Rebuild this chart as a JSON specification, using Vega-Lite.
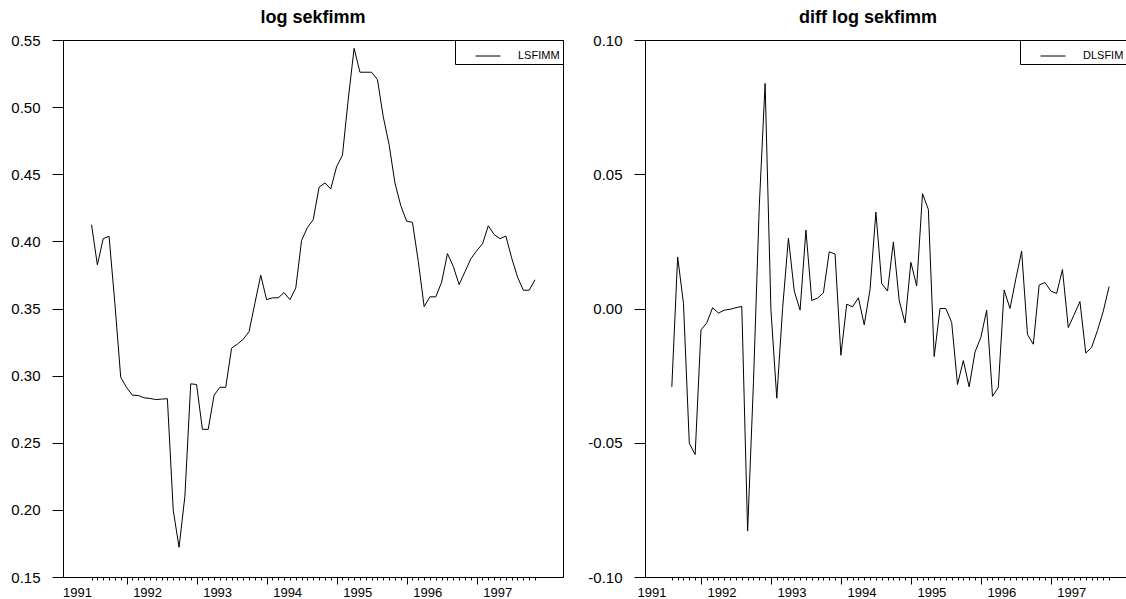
{
  "$schema": "https://vega.github.io/schema/vega-lite/v6.json",
  "autosize": "none",
  "padding": {"left": 63, "top": 40, "right": 1063, "bottom": 559},
  "background": "white",
  "bounds": "flush",
  "spacing": 82,
  "resolve": {"scale": {"x": "independent", "y": "independent", "color": "independent"}, "legend": {"color": "independent"}},
  "config": {
    "font": "Liberation Sans",
    "locale": {"number": {"decimal": ".", "thousands": ",", "grouping": [3], "currency": ["", ""], "minus": "-"}},
    "view": {"stroke": "black", "strokeWidth": 1},
    "axis": {"domainColor": "black", "tickColor": "black", "labelColor": "black", "labelFont": "Liberation Sans", "labelFontSize": 13, "grid": false, "title": null, "domainWidth": 1, "tickWidth": 1},
    "title": {"font": "Liberation Sans", "fontSize": 18, "fontWeight": "bold", "color": "black", "baseline": "alphabetic", "offset": 6},
    "legend": {"orient": "top-right", "offset": 0, "padding": 3, "strokeColor": "black", "fillColor": "white", "symbolType": "stroke", "symbolSize": 625, "symbolStrokeWidth": 1, "symbolStrokeColor": "black", "symbolOffset": 17, "labelOffset": 17, "labelFontSize": 11, "labelFont": "Liberation Sans", "labelColor": "black"}
  },
  "datasets": {
    "lev": [
      {"t":0,"v":0.4124,"s":"LSFIMM"},{"t":1,"v":0.3825,"s":"LSFIMM"},{"t":2,"v":0.402,"s":"LSFIMM"},{"t":3,"v":0.4038,"s":"LSFIMM"},{"t":4,"v":0.354,"s":"LSFIMM"},{"t":5,"v":0.2988,"s":"LSFIMM"},{"t":6,"v":0.2913,"s":"LSFIMM"},{"t":7,"v":0.2854,"s":"LSFIMM"},{"t":8,"v":0.2852,"s":"LSFIMM"},{"t":9,"v":0.2835,"s":"LSFIMM"},
      {"t":10,"v":0.283,"s":"LSFIMM"},{"t":11,"v":0.2822,"s":"LSFIMM"},{"t":12,"v":0.2825,"s":"LSFIMM"},{"t":13,"v":0.2828,"s":"LSFIMM"},{"t":14,"v":0.1998,"s":"LSFIMM"},{"t":15,"v":0.1721,"s":"LSFIMM"},{"t":16,"v":0.2102,"s":"LSFIMM"},{"t":17,"v":0.2939,"s":"LSFIMM"},{"t":18,"v":0.2934,"s":"LSFIMM"},{"t":19,"v":0.26,"s":"LSFIMM"},
      {"t":20,"v":0.26,"s":"LSFIMM"},{"t":21,"v":0.2854,"s":"LSFIMM"},{"t":22,"v":0.2913,"s":"LSFIMM"},{"t":23,"v":0.2913,"s":"LSFIMM"},{"t":24,"v":0.3204,"s":"LSFIMM"},{"t":25,"v":0.3235,"s":"LSFIMM"},{"t":26,"v":0.3271,"s":"LSFIMM"},{"t":27,"v":0.3328,"s":"LSFIMM"},{"t":28,"v":0.354,"s":"LSFIMM"},{"t":29,"v":0.3748,"s":"LSFIMM"},
      {"t":30,"v":0.3566,"s":"LSFIMM"},{"t":31,"v":0.3579,"s":"LSFIMM"},{"t":32,"v":0.358,"s":"LSFIMM"},{"t":33,"v":0.3618,"s":"LSFIMM"},{"t":34,"v":0.3566,"s":"LSFIMM"},{"t":35,"v":0.3652,"s":"LSFIMM"},{"t":36,"v":0.4007,"s":"LSFIMM"},{"t":37,"v":0.4103,"s":"LSFIMM"},{"t":38,"v":0.4163,"s":"LSFIMM"},{"t":39,"v":0.4404,"s":"LSFIMM"},
      {"t":40,"v":0.4435,"s":"LSFIMM"},{"t":41,"v":0.4391,"s":"LSFIMM"},{"t":42,"v":0.4557,"s":"LSFIMM"},{"t":43,"v":0.4642,"s":"LSFIMM"},{"t":44,"v":0.506,"s":"LSFIMM"},{"t":45,"v":0.5438,"s":"LSFIMM"},{"t":46,"v":0.526,"s":"LSFIMM"},{"t":47,"v":0.526,"s":"LSFIMM"},{"t":48,"v":0.526,"s":"LSFIMM"},{"t":49,"v":0.5205,"s":"LSFIMM"},
      {"t":50,"v":0.4927,"s":"LSFIMM"},{"t":51,"v":0.472,"s":"LSFIMM"},{"t":52,"v":0.4435,"s":"LSFIMM"},{"t":53,"v":0.4266,"s":"LSFIMM"},{"t":54,"v":0.415,"s":"LSFIMM"},{"t":55,"v":0.4142,"s":"LSFIMM"},{"t":56,"v":0.3851,"s":"LSFIMM"},{"t":57,"v":0.3514,"s":"LSFIMM"},{"t":58,"v":0.3587,"s":"LSFIMM"},{"t":59,"v":0.3587,"s":"LSFIMM"},
      {"t":60,"v":0.3696,"s":"LSFIMM"},{"t":61,"v":0.3909,"s":"LSFIMM"},{"t":62,"v":0.3813,"s":"LSFIMM"},{"t":63,"v":0.3678,"s":"LSFIMM"},{"t":64,"v":0.3774,"s":"LSFIMM"},{"t":65,"v":0.387,"s":"LSFIMM"},{"t":66,"v":0.393,"s":"LSFIMM"},{"t":67,"v":0.3981,"s":"LSFIMM"},{"t":68,"v":0.4116,"s":"LSFIMM"},{"t":69,"v":0.4051,"s":"LSFIMM"},
      {"t":70,"v":0.402,"s":"LSFIMM"},{"t":71,"v":0.404,"s":"LSFIMM"},{"t":72,"v":0.3877,"s":"LSFIMM"},{"t":73,"v":0.3735,"s":"LSFIMM"},{"t":74,"v":0.3636,"s":"LSFIMM"},{"t":75,"v":0.3636,"s":"LSFIMM"},{"t":76,"v":0.3714,"s":"LSFIMM"}
    ],
    "dif": [
      {"t":1,"v":-0.0292,"s":"DLSFIM"},{"t":2,"v":0.0192,"s":"DLSFIM"},{"t":3,"v":0.0019,"s":"DLSFIM"},{"t":4,"v":-0.0502,"s":"DLSFIM"},{"t":5,"v":-0.0544,"s":"DLSFIM"},{"t":6,"v":-0.008,"s":"DLSFIM"},{"t":7,"v":-0.0053,"s":"DLSFIM"},{"t":8,"v":0.0003,"s":"DLSFIM"},{"t":9,"v":-0.0017,"s":"DLSFIM"},
      {"t":10,"v":-0.0006,"s":"DLSFIM"},{"t":11,"v":-0.0003,"s":"DLSFIM"},{"t":12,"v":0.0003,"s":"DLSFIM"},{"t":13,"v":0.0008,"s":"DLSFIM"},{"t":14,"v":-0.0829,"s":"DLSFIM"},{"t":15,"v":-0.0277,"s":"DLSFIM"},{"t":16,"v":0.0381,"s":"DLSFIM"},{"t":17,"v":0.0838,"s":"DLSFIM"},{"t":18,"v":-0.0005,"s":"DLSFIM"},{"t":19,"v":-0.0334,"s":"DLSFIM"},
      {"t":20,"v":0.0,"s":"DLSFIM"},{"t":21,"v":0.0262,"s":"DLSFIM"},{"t":22,"v":0.0065,"s":"DLSFIM"},{"t":23,"v":-0.0006,"s":"DLSFIM"},{"t":24,"v":0.0292,"s":"DLSFIM"},{"t":25,"v":0.003,"s":"DLSFIM"},{"t":26,"v":0.0039,"s":"DLSFIM"},{"t":27,"v":0.0058,"s":"DLSFIM"},{"t":28,"v":0.0211,"s":"DLSFIM"},{"t":29,"v":0.0203,"s":"DLSFIM"},
      {"t":30,"v":-0.0174,"s":"DLSFIM"},{"t":31,"v":0.0016,"s":"DLSFIM"},{"t":32,"v":0.0006,"s":"DLSFIM"},{"t":33,"v":0.004,"s":"DLSFIM"},{"t":34,"v":-0.0061,"s":"DLSFIM"},{"t":35,"v":0.0071,"s":"DLSFIM"},{"t":36,"v":0.0359,"s":"DLSFIM"},{"t":37,"v":0.0093,"s":"DLSFIM"},{"t":38,"v":0.0065,"s":"DLSFIM"},{"t":39,"v":0.0248,"s":"DLSFIM"},
      {"t":40,"v":0.003,"s":"DLSFIM"},{"t":41,"v":-0.0054,"s":"DLSFIM"},{"t":42,"v":0.0172,"s":"DLSFIM"},{"t":43,"v":0.0084,"s":"DLSFIM"},{"t":44,"v":0.0428,"s":"DLSFIM"},{"t":45,"v":0.0369,"s":"DLSFIM"},{"t":46,"v":-0.0179,"s":"DLSFIM"},{"t":47,"v":0.0,"s":"DLSFIM"},{"t":48,"v":0.0,"s":"DLSFIM"},{"t":49,"v":-0.0052,"s":"DLSFIM"},
      {"t":50,"v":-0.0283,"s":"DLSFIM"},{"t":51,"v":-0.0194,"s":"DLSFIM"},{"t":52,"v":-0.0292,"s":"DLSFIM"},{"t":53,"v":-0.0162,"s":"DLSFIM"},{"t":54,"v":-0.0108,"s":"DLSFIM"},{"t":55,"v":-0.0006,"s":"DLSFIM"},{"t":56,"v":-0.0327,"s":"DLSFIM"},{"t":57,"v":-0.0294,"s":"DLSFIM"},{"t":58,"v":0.0069,"s":"DLSFIM"},{"t":59,"v":0.0,"s":"DLSFIM"},
      {"t":60,"v":0.011,"s":"DLSFIM"},{"t":61,"v":0.0214,"s":"DLSFIM"},{"t":62,"v":-0.0097,"s":"DLSFIM"},{"t":63,"v":-0.0133,"s":"DLSFIM"},{"t":64,"v":0.0087,"s":"DLSFIM"},{"t":65,"v":0.0097,"s":"DLSFIM"},{"t":66,"v":0.0065,"s":"DLSFIM"},{"t":67,"v":0.0056,"s":"DLSFIM"},{"t":68,"v":0.0145,"s":"DLSFIM"},{"t":69,"v":-0.0071,"s":"DLSFIM"},
      {"t":70,"v":-0.0023,"s":"DLSFIM"},{"t":71,"v":0.0026,"s":"DLSFIM"},{"t":72,"v":-0.0166,"s":"DLSFIM"},{"t":73,"v":-0.0145,"s":"DLSFIM"},{"t":74,"v":-0.0082,"s":"DLSFIM"},{"t":75,"v":-0.001,"s":"DLSFIM"},{"t":76,"v":0.0082,"s":"DLSFIM"}
    ]
  },
  "hconcat": [
    {
      "width": 500,
      "height": 537,
      "title": {"text": "log sekfimm"},
      "data": {"name": "lev"},
      "mark": {"type": "line", "strokeWidth": 1, "color": "black"},
      "encoding": {
        "x": {
          "field": "t", "type": "quantitative",
          "scale": {"domain": [-4.89, 80.8], "nice": false, "zero": false},
          "axis": {
            "values": [0,1,2,3,4,5,6,7,8,9,10,11,12,13,14,15,16,17,18,19,20,21,22,23,24,25,26,27,28,29,30,31,32,33,34,35,36,37,38,39,40,41,42,43,44,45,46,47,48,49,50,51,52,53,54,55,56,57,58,59,60,61,62,63,64,65,66,67,68,69,70,71,72,73,74,75,76],
            "tickSize": {"condition": {"test": "datum.value % 12 === 6", "value": 7}, "value": 3},
            "labelExpr": "datum.value % 12 === 0 ? '' + (1991 + datum.value / 12) : ''",
            "labelAlign": "right",
            "labelPadding": 6,
            "labelOverlap": false,
            "labelFlush": false,
            "labelBound": false
          }
        },
        "y": {
          "field": "v", "type": "quantitative",
          "scale": {"domain": [0.15, 0.55], "nice": false, "zero": false},
          "axis": {"values": [0.15, 0.2, 0.25, 0.3, 0.35, 0.4, 0.45, 0.5, 0.55], "format": ".2f", "tickSize": 11, "labelPadding": 12, "labelFontSize": 15}
        },
        "color": {"field": "s", "type": "nominal", "scale": {"range": ["black"]}, "legend": {"title": null}}
      }
    },
    {
      "width": 482,
      "height": 537,
      "title": {"text": "diff log sekfimm", "dx": -18},
      "layer": [
        {
          "data": {"name": "dif"},
          "mark": {"type": "line", "strokeWidth": 1, "color": "black"},
          "encoding": {
            "x": {
              "field": "t", "type": "quantitative",
              "scale": {"domain": [-3.6, 79.07], "nice": false, "zero": false},
              "axis": {
                "values": [0,1,2,3,4,5,6,7,8,9,10,11,12,13,14,15,16,17,18,19,20,21,22,23,24,25,26,27,28,29,30,31,32,33,34,35,36,37,38,39,40,41,42,43,44,45,46,47,48,49,50,51,52,53,54,55,56,57,58,59,60,61,62,63,64,65,66,67,68,69,70,71,72,73,74,75,76],
                "tickSize": {"condition": {"test": "datum.value % 12 === 6", "value": 7}, "value": 3},
                "tickOpacity": {"condition": {"test": "datum.value < 1", "value": 0}, "value": 1},
                "labelExpr": "datum.value % 12 === 0 ? '' + (1991 + datum.value / 12) : ''",
                "labelAlign": "right",
                "labelPadding": 6,
                "labelOverlap": false,
                "labelFlush": false,
                "labelBound": false
              }
            },
            "y": {
              "field": "v", "type": "quantitative",
              "scale": {"domain": [-0.1, 0.1], "nice": false, "zero": false},
              "axis": {"values": [-0.1, -0.05, 0, 0.05, 0.1], "format": ".2f", "tickSize": 11, "labelPadding": 12, "labelFontSize": 15}
            },
            "color": {"field": "s", "type": "nominal", "scale": {"range": ["black"]}, "legend": {"title": null}}
          }
        },
        {
          "mark": {"type": "rule", "color": "black", "strokeWidth": 1},
          "encoding": {"y": {"datum": 0}}
        }
      ]
    }
  ]
}
